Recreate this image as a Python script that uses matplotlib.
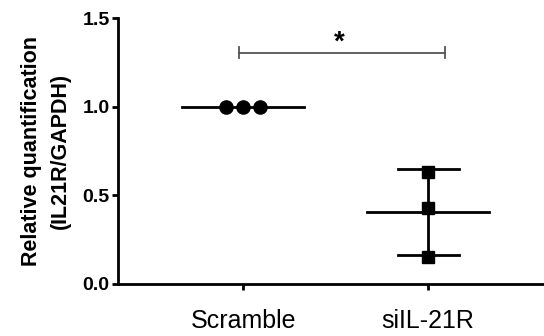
import numpy as np
import matplotlib
matplotlib.use("Agg")
import matplotlib.pyplot as plt

plt.rcParams["font.family"] = ["Liberation Sans", "DejaVu Sans"]

# data
groups = ["Scramble", "siIL-21R"]
scramble_vals = [1.0, 1.0, 1.0]
scramble_offsets = [-0.092, 0.0, 0.092]
sil_vals = [0.633, 0.43, 0.153]
yticks = [0.0, 0.5, 1.0, 1.5]
sig_x = [-0.02, 1.09]
sig_y = 1.305
sig_label = "*"

fig = plt.figure(figsize=(5.44, 3.36), dpi=100)
ax = fig.add_axes([0.217, 0.155, 0.783, 0.791])

# Scramble points + mean line
ax.plot([0 + o for o in scramble_offsets], scramble_vals, "o", color="black",
        markersize=9.5, zorder=3)
ax.plot([-0.33, 0.33], [np.mean(scramble_vals)] * 2, color="black", lw=2)

# siIL-21R points, mean, SD
m = np.mean(sil_vals)
sd = np.std(sil_vals, ddof=1)
ax.plot([1] * len(sil_vals), sil_vals, "s", color="black", markersize=8.5, zorder=3)
ax.plot([1 - 0.33, 1 + 0.33], [m, m], color="black", lw=2)
ax.plot([1, 1], [m - sd, m + sd], color="black", lw=2)
for y in (m - sd, m + sd):
    ax.plot([1 - 0.165, 1 + 0.165], [y, y], color="black", lw=2)

# significance bracket
ax.plot(sig_x, [sig_y, sig_y], color="#555555", lw=1.3)
for x in sig_x:
    ax.plot([x, x], [sig_y - 0.03, sig_y + 0.03], color="#555555", lw=1.3)
ax.text(0.52, 1.36, sig_label, ha="center", va="center",
        fontsize=20, fontweight="bold")

ax.set_xlim(-0.676, 1.627)
ax.set_ylim(0, 1.5)
ax.set_xticks([0, 1])
ax.set_xticklabels(groups, fontsize=18)
ax.set_yticks(yticks)
ax.set_yticklabels([f"{t:.1f}" for t in yticks], fontsize=14, fontweight="bold")
ax.tick_params(axis="both", width=2, length=4, direction="out")
ax.tick_params(axis="x", pad=14)
ax.tick_params(axis="y", pad=2)
for s in ("top", "right"):
    ax.spines[s].set_visible(False)
for s in ("left", "bottom"):
    ax.spines[s].set_linewidth(2)
ax.set_ylabel("Relative quantification\n(IL21R/GAPDH)", fontsize=15.5,
              fontweight="bold", linespacing=1.55, labelpad=8)

fig.savefig("out.png", dpi=100)
